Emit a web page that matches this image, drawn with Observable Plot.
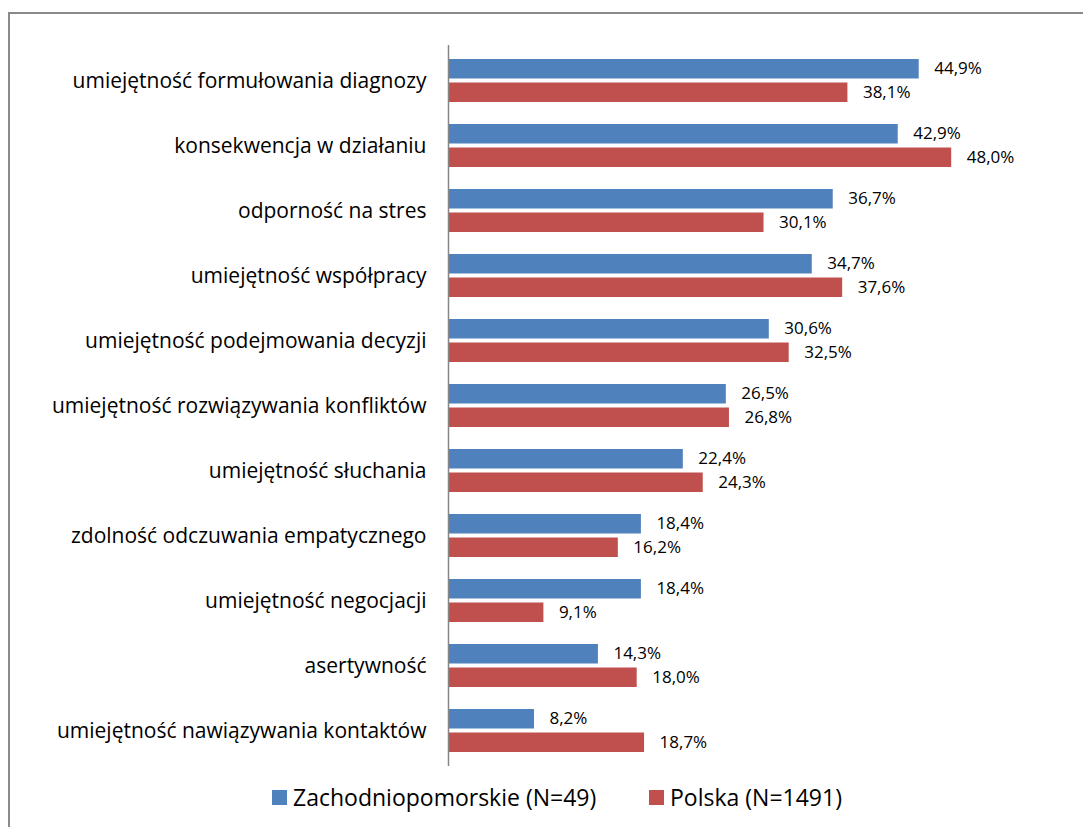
<!DOCTYPE html>
<html>
<head>
<meta charset="utf-8">
<script src="https://cdn.jsdelivr.net/npm/d3@7"></script>
<script src="https://cdn.jsdelivr.net/npm/@observablehq/plot@0.6"></script>
<style>
  html, body { margin: 0; padding: 0; background: #fff; }
  body { width: 1083px; height: 827px; position: relative; overflow: hidden; font-family: "Open Sans", sans-serif; }
  #frame { position: absolute; left: 8px; top: 12px; width: 1200px; height: 900px; border: 2px solid #8a8a8a; box-sizing: border-box; }
  #chart { position: absolute; left: 0; top: 0; }
  #legend { position: absolute; top: 784px; left: 0; width: 1083px; height: 26px; font-size: 23px; color: #000; }
  .item { position: absolute; top: 0; display: flex; align-items: center; height: 26px; }
  .sw { width: 15px; height: 15px; margin-right: 6px; display: inline-block; }
</style>
</head>
<body>
<div id="frame"></div>
<div id="chart"></div>
<div id="legend"></div>
<script>
const categories = [
  "umiejętność formułowania diagnozy",
  "konsekwencja w działaniu",
  "odporność na stres",
  "umiejętność współpracy",
  "umiejętność podejmowania decyzji",
  "umiejętność rozwiązywania konfliktów",
  "umiejętność słuchania",
  "zdolność odczuwania empatycznego",
  "umiejętność negocjacji",
  "asertywność",
  "umiejętność nawiązywania kontaktów"
];
const zachodniopomorskie = [44.9, 42.9, 36.7, 34.7, 30.6, 26.5, 22.4, 18.4, 18.4, 14.3, 8.2];
const polska = [38.1, 48.0, 30.1, 37.6, 32.5, 26.8, 24.3, 16.2, 9.1, 18.0, 18.7];
const seriesNames = ["Zachodniopomorskie (N=49)", "Polska (N=1491)"];
const seriesColors = ["#4F81BD", "#C0504D"];

const blue = categories.map((c, i) => ({category: c, value: zachodniopomorskie[i]}));
const red = categories.map((c, i) => ({category: c, value: polska[i]}));
const fmt = d => d3.format(".1f")(d.value).replace(".", ",") + "%";

const chart = Plot.plot({
  width: 1083,
  height: 770,
  marginLeft: 448,
  marginRight: 6,
  marginTop: 45,
  marginBottom: 4,
  style: {fontFamily: "'Open Sans', sans-serif", background: "transparent"},
  x: {domain: [0, 60], axis: null},
  y: {domain: categories, padding: 0, label: null},
  marks: [
    Plot.barX(blue, {x: "value", y: "category", fill: seriesColors[0], insetTop: 11, insetBottom: 34.5}),
    Plot.barX(red, {x: "value", y: "category", fill: seriesColors[1], insetTop: 34.5, insetBottom: 11}),
    Plot.text(blue, {x: "value", y: "category", text: fmt, dx: 15, dy: -12, textAnchor: "start", fontSize: 17, fill: "#000"}),
    Plot.text(red, {x: "value", y: "category", text: fmt, dx: 15, dy: 12, textAnchor: "start", fontSize: 17, fill: "#000"}),
    Plot.ruleX([0], {stroke: "#868686", strokeWidth: 1.5}),
    Plot.axisY({tickSize: 0, tickPadding: 22, fontSize: 21, fill: "#000", label: null})
  ]
});
document.getElementById("chart").appendChild(chart);

const legend = document.getElementById("legend");
const lefts = [272, 649];
seriesNames.forEach((name, i) => {
  const it = document.createElement("div");
  it.className = "item";
  it.style.left = lefts[i] + "px";
  const sw = document.createElement("span");
  sw.className = "sw";
  sw.style.background = seriesColors[i];
  it.appendChild(sw);
  it.appendChild(document.createTextNode(name));
  legend.appendChild(it);
});
</script>
</body>
</html>
